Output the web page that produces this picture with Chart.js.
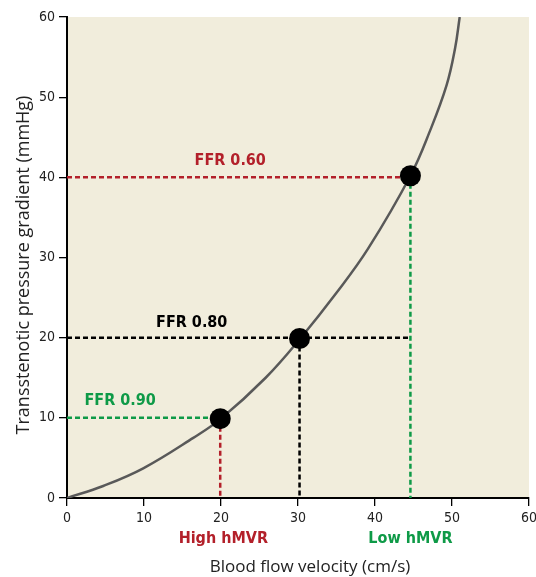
<!DOCTYPE html>
<html>
<head>
<meta charset="utf-8">
<script src="https://cdn.jsdelivr.net/npm/chart.js@4"></script>
<style>
  html, body { margin: 0; padding: 0; background: #fff; }
</style>
</head>
<body>
<canvas id="FlowChart" width="536" height="577"></canvas>
<script>
// curve: velocity (cm/s) -> gradient (mmHg)
const curveVelocity = [0, 4.7, 9.9, 16.4, 20, 25.8, 30.3, 35, 39.1, 44.6, 47.1, 49.3, 50.4, 51];
const curveGradient = [0, 1.5, 3.7, 7.5, 9.9, 15, 19.9, 25.6, 31.1, 40.2, 45.7, 51.5, 56.1, 60];

// the three FFR operating points
const ffrVelocity = [19.9, 30.2, 44.6];
const ffrGradient = [9.9, 19.9, 40.2];
const ffrNames = ["FFR 0.90", "FFR 0.80", "FFR 0.60"];

// dashed guides: horizontal level and how far it runs, vertical drop lines
const guideLevels = [10, 20, 40];
const guideLevelEnds = [19.9, 44.6, 44.6];
const hColors = ["#0e9a47", "#000000", "#b3202a"];
const vColors = ["#b3202a", "#000000", "#0e9a47"];

const axisTicks = [0, 10, 20, 30, 40, 50, 60];
const hmvrNames = ["High hMVR", "Low hMVR"];
const hmvrVelocity = [20.3, 44.6];
const hmvrColors = ["#b3202a", "#0e9a47"];

const xTitle = "Blood flow velocity (cm/s)";
const yTitle = "Transstenotic pressure gradient (mmHg)";

const condensed = "'DejaVu Sans Condensed', 'Liberation Sans Narrow', sans-serif";
const titleFont = "'Open Sans', 'Noto Sans', sans-serif";

// --- datasets ---
const datasets = [];

datasets.push({
  label: "points",
  data: ffrVelocity.map((v, i) => ({ x: v, y: ffrGradient[i] })),
  showLine: false,
  pointRadius: 10.5,
  pointBackgroundColor: "#000",
  pointBorderWidth: 0,
});

datasets.push({
  label: "curve",
  data: curveVelocity.map((v, i) => ({ x: v, y: curveGradient[i] })),
  showLine: true,
  borderColor: "#595959",
  borderWidth: 2.5,
  pointRadius: 0,
  tension: 0.4,
});

guideLevels.forEach((lvl, i) => {
  datasets.push({
    label: "h" + i,
    data: [{ x: 0, y: lvl }, { x: guideLevelEnds[i], y: lvl }],
    showLine: true,
    borderColor: hColors[i],
    borderWidth: 2.5,
    borderDash: [5, 3],
    pointRadius: 0,
  });
  datasets.push({
    label: "v" + i,
    data: [{ x: ffrVelocity[i], y: ffrGradient[i] }, { x: ffrVelocity[i], y: 0 }],
    showLine: true,
    borderColor: vColors[i],
    borderWidth: 2.5,
    borderDash: [5, 3],
    pointRadius: 0,
  });
});

// beige plot area
const plotBackground = {
  id: "plotBackground",
  beforeDraw(chart) {
    const { ctx, chartArea: a } = chart;
    ctx.save();
    ctx.fillStyle = "#f1eddc";
    ctx.fillRect(a.left, a.top, a.right - a.left, a.bottom - a.top);
    ctx.restore();
  },
};

// FFR labels above the guides, hMVR labels and axis titles
const ffrLabelX = [6.9, 16.2, 21.2];
const ffrLabelY = [12.1, 21.8, 42.0];

const textLabels = {
  id: "textLabels",
  afterDraw(chart) {
    const { ctx, chartArea: a } = chart;
    const xs = chart.scales.x, ys = chart.scales.y;
    ctx.save();
    ctx.font = "bold 16px " + condensed;
    ctx.textAlign = "center";
    ctx.textBaseline = "middle";
    ffrNames.forEach((name, i) => {
      ctx.fillStyle = hColors[i];
      ctx.fillText(name, xs.getPixelForValue(ffrLabelX[i]), ys.getPixelForValue(ffrLabelY[i]));
    });
    hmvrNames.forEach((name, i) => {
      ctx.fillStyle = hmvrColors[i];
      ctx.fillText(name, xs.getPixelForValue(hmvrVelocity[i]), a.bottom + 41);
    });

    // axis titles (slightly off-centre in the original)
    ctx.fillStyle = "#222";
    ctx.font = "17px " + titleFont;
    ctx.fillText(xTitle, 310, 567);
    ctx.translate(24, 265);
    ctx.rotate(-Math.PI / 2);
    ctx.font = "18px " + titleFont;
    ctx.fillText(yTitle, 0, 0);
    ctx.restore();
  },
};

const axisCommon = {
  type: "linear",
  min: 0,
  max: 60,
  afterBuildTicks: (scale) => {
    scale.ticks = axisTicks.map((v) => ({ value: v }));
  },
  grid: {
    drawOnChartArea: false,
    drawTicks: true,
    tickLength: 8,
    color: "#000",
    lineWidth: 1.3,
  },
  border: { display: true, color: "#000", width: 2 },
};

new Chart(document.getElementById("FlowChart"), {
  type: "scatter",
  data: { datasets },
  options: {
    responsive: false,
    animation: false,
    devicePixelRatio: 1,
    layout: { autoPadding: false, padding: { left: 13, top: 17, right: 7, bottom: 0 } },
    plugins: { legend: { display: false }, tooltip: { enabled: false } },
    scales: {
      x: {
        ...axisCommon,
        ticks: {
          font: { family: condensed, size: 14 },
          color: "#222",
          padding: 4,
          autoSkip: false,
        },
        afterFit: (scale) => {
          scale.height = 79;
          scale.paddingRight = 0;
        },
      },
      y: {
        ...axisCommon,
        ticks: { font: { family: condensed, size: 14 }, color: "#222", padding: 4 },
        afterFit: (scale) => { scale.width = 54; },
      },
    },
  },
  plugins: [plotBackground, textLabels],
});
</script>
</body>
</html>
